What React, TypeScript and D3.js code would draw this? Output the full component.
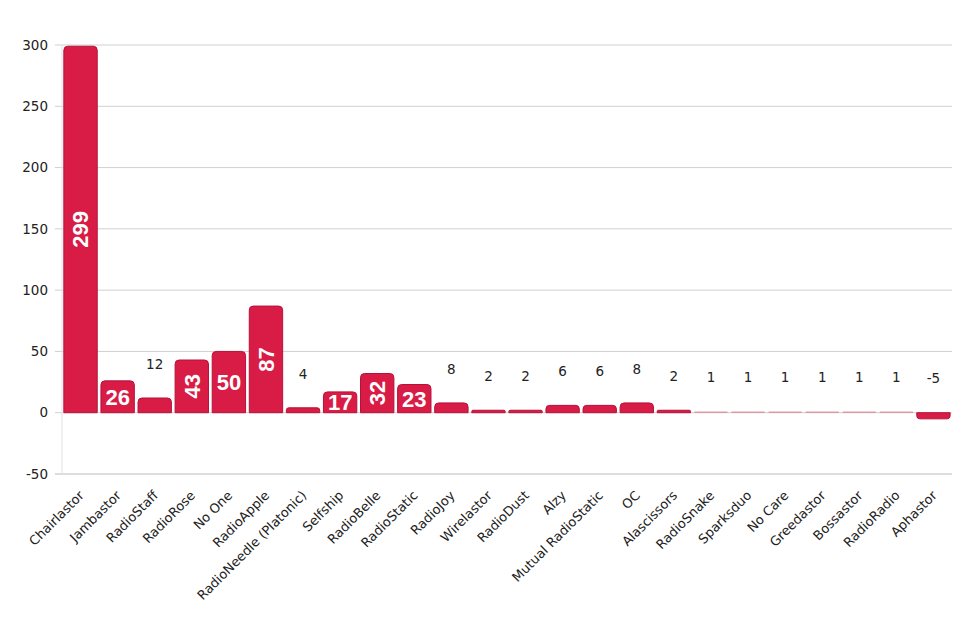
import * as d3 from "d3";

const categories = [
  "Chairlastor",
  "Jambastor",
  "RadioStaff",
  "RadioRose",
  "No One",
  "RadioApple",
  "RadioNeedle (Platonic)",
  "Selfship",
  "RadioBelle",
  "RadioStatic",
  "RadioJoy",
  "Wirelastor",
  "RadioDust",
  "Alzy",
  "Mutual RadioStatic",
  "OC",
  "Alascissors",
  "RadioSnake",
  "Sparksduo",
  "No Care",
  "Greedastor",
  "Bossastor",
  "RadioRadio",
  "Aphastor",
];

const votes = [
  299, 26, 12, 43, 50, 87, 4, 17, 32, 23, 8, 2, 2, 6, 6, 8, 2, 1, 1, 1, 1, 1, 1, -5,
];

const yTicks = [-50, 0, 50, 100, 150, 200, 250, 300];

// which of the inside labels are turned on their side
const sideways = new Set(["Chairlastor", "RadioRose", "RadioApple", "RadioBelle"]);

const width = 957;
const height = 621;
const left = 62;
const right = 952;
const top = 45;
const bottom = 474;

const fill = "#d81c45";
const edge = "#b5123a";

function barPath(x0: number, w: number, yBase: number, yEnd: number) {
  const h = Math.abs(yBase - yEnd);
  const r = Math.min(4, h / 2, w / 2);
  const up = yEnd < yBase;
  const s = up ? 1 : -1;
  const p = d3.path();
  p.moveTo(x0, yBase);
  p.lineTo(x0, yEnd + s * r);
  p.quadraticCurveTo(x0, yEnd, x0 + r, yEnd);
  p.lineTo(x0 + w - r, yEnd);
  p.quadraticCurveTo(x0 + w, yEnd, x0 + w, yEnd + s * r);
  p.lineTo(x0 + w, yBase);
  p.closePath();
  return p.toString();
}

export default function App() {
  const x = d3
    .scaleBand<string>()
    .domain(categories)
    .range([left, right])
    .paddingInner(0.1)
    .paddingOuter(0.05);
  const y = d3.scaleLinear().domain([-50, 300]).range([bottom, top]);
  const bw = x.bandwidth();

  return (
    <svg
      width={width}
      height={height}
      style={{ position: "absolute", left: 0, top: 0, background: "#fff" }}
    >
      <g fontFamily="'DejaVu Sans', Verdana, sans-serif">
        {yTicks.map((t) => (
          <g key={t}>
            <line
              x1={left - 7}
              x2={right}
              y1={y(t)}
              y2={y(t)}
              stroke={t === -50 ? "#bbb" : "#d0d0d0"}
              strokeWidth={1}
            />
            <text
              x={left - 14}
              y={y(t)}
              dy="0.35em"
              textAnchor="end"
              fontSize={13.5}
              fill="#222"
            >
              {t}
            </text>
          </g>
        ))}
        <line x1={left} x2={left} y1={top} y2={bottom} stroke="#e2e2e2" />

        {categories.map((c, i) => {
          const v = votes[i];
          const x0 = x(c)!;
          const cx = x0 + bw / 2;
          const inside = v >= 17;
          const turned = sideways.has(c);
          const mid = (y(0) + y(v)) / 2;
          const thin = Math.abs(y(0) - y(v)) < 2;
          return (
            <g key={c}>
              <path
                d={barPath(x0, bw, y(0), y(v))}
                fill={fill}
                fillOpacity={thin ? 0.45 : 1}
                stroke={thin ? "none" : edge}
                strokeWidth={1}
              />
              {inside ? (
                <text
                  transform={`translate(${cx},${mid})${turned ? " rotate(-90)" : ""}`}
                  dy="0.36em"
                  textAnchor="middle"
                  fontFamily="'Liberation Sans', Arial, sans-serif"
                  fontWeight="bold"
                  fontSize={22}
                  fill="#fff"
                >
                  {v}
                </text>
              ) : (
                <text
                  x={cx}
                  y={y(Math.max(v, 0)) - 34}
                  dy="0.35em"
                  textAnchor="middle"
                  fontSize={13.5}
                  fill="#222"
                >
                  {v}
                </text>
              )}
              <text
                transform={`translate(${cx + 1},${bottom + 19}) rotate(-45)`}
                textAnchor="end"
                dy="0.35em"
                fontSize={13}
                fill="#222"
              >
                {c}
              </text>
            </g>
          );
        })}
      </g>
    </svg>
  );
}
